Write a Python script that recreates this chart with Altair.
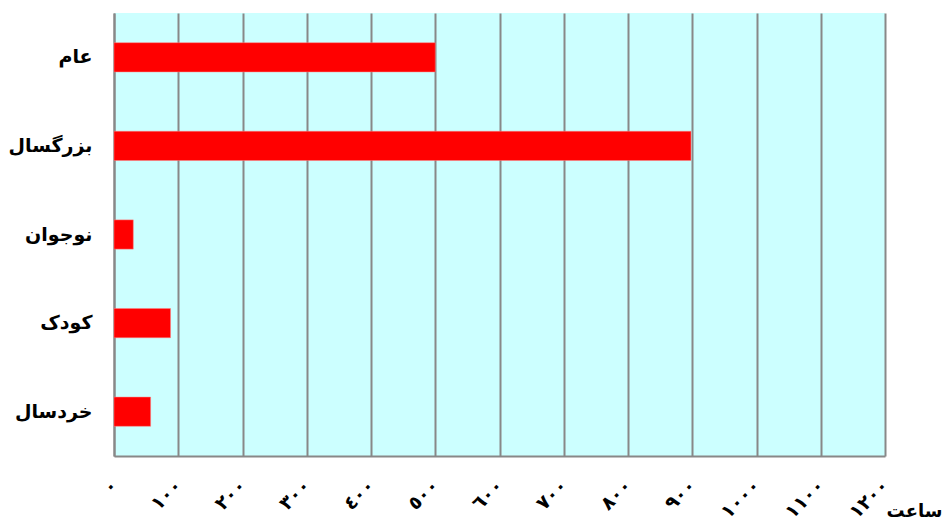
import altair as alt
import pandas as pd

categories = ["عام", "بزرگسال", "نوجوان", "کودک", "خردسال"]
hours = [500, 898, 30, 88, 57]
tick_values = [0, 100, 200, 300, 400, 500, 600, 700, 800, 900, 1000, 1100, 1200]
tick_labels = ["٠", "١٠٠", "٢٠٠", "٣٠٠", "٤٠٠", "٥٠٠", "٦٠٠", "٧٠٠", "٨٠٠", "٩٠٠", "١٠٠٠", "١١٠٠", "١٢٠٠"]

df = pd.DataFrame({"category": categories, "hours": hours})

label_map = "{" + ", ".join(f"'{v}': '{l}'" for v, l in zip(tick_values, tick_labels)) + "}"
label_expr = f"{label_map}[datum.value + '']"

chart = alt.Chart(df).mark_bar(color="#FF0000", stroke="#FF8080", strokeWidth=0.5).encode(
    x=alt.X("hours:Q",
            scale=alt.Scale(domain=[0, 1200], nice=False, zero=True),
            axis=alt.Axis(values=tick_values, labelExpr=label_expr, title="ساعت",
                          grid=True, gridColor="#888888", gridWidth=2, gridOpacity=1,
                          domainColor="#888888", domainWidth=2, ticks=False,
                          labelAngle=315, labelAlign="right", labelBaseline="middle",
                          labelPadding=26, labelFontSize=19, labelFontWeight="bold",
                          labelColor="black", labelFont="DejaVu Sans",
                          titleFontSize=18, titleFontWeight="bold", titleFont="DejaVu Sans",
                          titleColor="black", titleAngle=0, titleX=800, titleY=55,
                          titleAlign="center", titleBaseline="middle")),
    y=alt.Y("category:N", sort=categories,
            scale=alt.Scale(paddingInner=0.67, paddingOuter=0.335),
            axis=alt.Axis(title=None, ticks=False, domainColor="#888888", domainWidth=2,
                          labelFontSize=19, labelFontWeight="bold", labelColor="black",
                          labelFont="DejaVu Sans", labelPadding=22, grid=False)),
).properties(
    width=771, height=443,
    autosize=alt.AutoSizeParams(type="none"),
    padding={"left": 106, "top": 5, "right": 58, "bottom": 70},
).configure(background="white").configure_view(fill="#CCFFFF", stroke=None)

chart.save("out.html", embed_options={"renderer": "svg", "actions": False})
